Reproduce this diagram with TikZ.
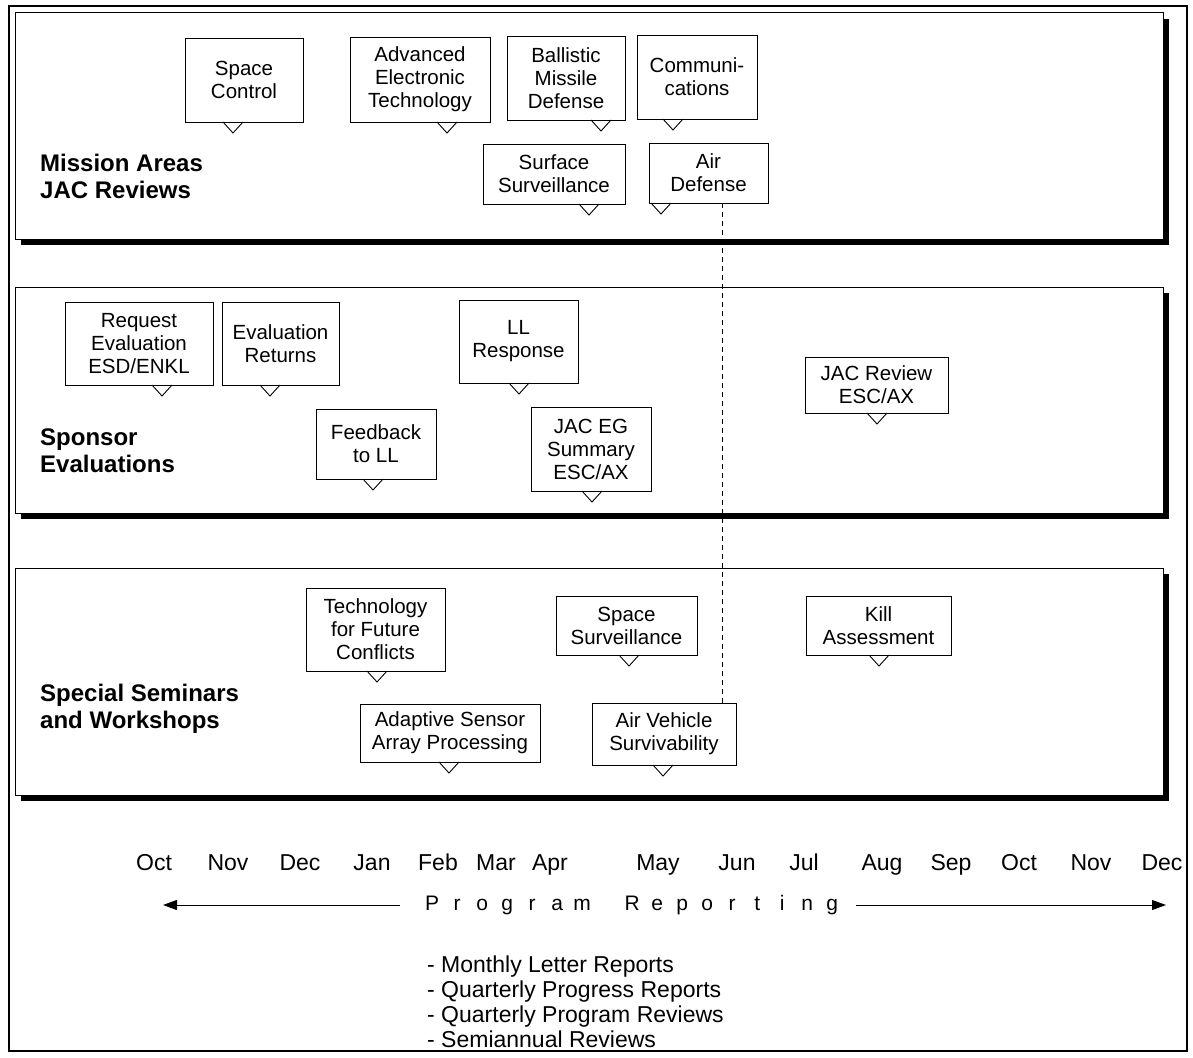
\documentclass[tikz,border=0pt]{standalone}
\usepackage{fontspec}
\setmainfont{Liberation Sans}
\usetikzlibrary{calc,arrows.meta}

\tikzset{
  frame/.style={draw=black, line width=1.2pt},
  panel/.style={draw=black, line width=1pt, fill=white},
  evbox/.style={draw=black, line width=0.9pt, fill=white, rectangle, align=center,
    inner sep=2pt, outer sep=0pt, font=\fontsize{20.5}{23}\selectfont},
  pointer/.style={draw=black, line width=0.9pt},
  rowlabel/.style={anchor=west, align=left, inner sep=0pt,
    font=\fontsize{24}{27}\selectfont\bfseries},
  month/.style={anchor=base, inner sep=0pt, font=\fontsize{23}{25}\selectfont},
  listitem/.style={anchor=base west, inner sep=0pt, font=\fontsize{23}{25}\selectfont},
  guide/.style={draw=black, line width=0.8pt, dash pattern=on 5pt off 4pt},
  reparrow/.style={draw=black, line width=1pt, -{Triangle[length=14pt,width=10pt]}},
}

% panel with a solid drop shadow on the right and bottom: x1,y1,x2,y2
\newcommand\panelbox[4]{%
  \fill[black] (#1+6,#4) rectangle (#3+6,#4+6);
  \fill[black] (#3,#2+6) rectangle (#3+6,#4+6);
  \draw[panel] (#1,#2) rectangle (#3,#4);
}

% event box with a small V pointer: name, x1, y1, x2, y2, pointer x, text
\newcommand\eventbox[7]{%
  \node[evbox, minimum width={#4-#2}, minimum height={#5-#3}] (#1)
    at ({(#2+#4)/2},{(#3+#5)/2}) {#7};
  \draw[pointer] ($(#1.south west)+({#6-#2-10},0)$) -- ++(10,11) -- ++(10,-11);
}

% one letter of the spaced-out heading
\newcommand\pitch[1]{\makebox[25pt]{#1}}

\begin{document}
\begin{tikzpicture}[x=1pt,y=-1pt]
\useasboundingbox (0,0) rectangle (1193,1057);
\draw[frame] (9,6) rectangle (1187,1051);

% the three activity bands
\panelbox{15}{13}{1163}{239}
\panelbox{15}{287}{1163}{513}
\panelbox{15}{568}{1163}{795}

\node[rowlabel] (lblmission) at (40,176) {Mission Areas\\JAC Reviews};
\node[rowlabel] (lblsponsor) at (40,451) {Sponsor\\Evaluations};
\node[rowlabel] (lblseminar) at (40,709) {Special Seminars\\and Workshops};

% mission area reviews
\eventbox{spacecontrol}{185}{38}{303}{122}{233}{Space\\Control}
\eventbox{advelec}{350}{37}{490}{122}{447}{Advanced\\Electronic\\Technology}
\eventbox{ballistic}{507}{36}{625}{120}{601}{Ballistic\\Missile\\Defense}
\eventbox{comms}{637}{35}{757}{119}{673}{Communi-\\cations}
\eventbox{surfsurv}{483}{144}{625}{204}{589}{Surface\\Surveillance}
\eventbox{airdef}{649}{143}{768}{203}{661}{Air\\Defense}

% sponsor evaluations
\eventbox{reqeval}{65}{302}{213}{385}{162}{Request\\Evaluation\\ESD/ENKL}
\eventbox{evalret}{222}{302}{339}{385}{270}{Evaluation\\Returns}
\eventbox{llresp}{459}{300}{578}{383}{519}{LL\\Response}
\eventbox{feedback}{316}{409}{436}{479}{373}{Feedback\\to LL}
\eventbox{jaceg}{531}{407}{651}{491}{592}{JAC EG\\Summary\\ESC/AX}
\eventbox{jacreview}{805}{357}{948}{413}{877}{JAC Review\\ESC/AX}

% seminars and workshops
\eventbox{techfut}{306}{588}{445}{671}{377}{Technology\\for Future\\Conflicts}
\eventbox{spacesurv}{556}{596}{697}{655}{629}{Space\\Surveillance}
\eventbox{killassess}{806}{596}{951}{655}{879}{Kill\\Assessment}
\eventbox{adaptive}{360}{704}{540}{762}{449}{Adaptive Sensor\\Array Processing}
\eventbox{airveh}{592}{703}{736}{765}{663}{Air Vehicle\\Survivability}

% current-date marker
\coordinate (guidetop) at ($(airdef.south west)+(73,0)$);
\draw[guide] (guidetop) -- (guidetop |- airveh.north);

% month scale
\foreach \mx/\mname [count=\i] in {154/Oct,228/Nov,300/Dec,372/Jan,438/Feb,496/Mar,
    550/Apr,658/May,737/Jun,804/Jul,882/Aug,951/Sep,1019/Oct,1091/Nov,1162/Dec}
  \node[month] (month\i) at (\mx,870) {\mname};

% program reporting span
\node[anchor=west, inner sep=0pt, font=\fontsize{21}{24}\selectfont] (report) at (419.5,905)
  {\pitch{P}\pitch{r}\pitch{o}\pitch{g}\pitch{r}\pitch{a}\pitch{m}\pitch{}%
   \pitch{R}\pitch{e}\pitch{p}\pitch{o}\pitch{r}\pitch{t}\pitch{i}\pitch{n}\pitch{g}};
\coordinate (lefttip) at (163,905);
\coordinate (righttip) at (1166,905);
\draw[reparrow] ([xshift=-20pt]report.west) -- (lefttip);
\draw[reparrow] ([xshift=11pt]report.east) -- (righttip);

\node[listitem] (rep1) at (427,972) {- Monthly Letter Reports};
\node[listitem] (rep2) at (427,997) {- Quarterly Progress Reports};
\node[listitem] (rep3) at (427,1022) {- Quarterly Program Reviews};
\node[listitem] (rep4) at (427,1047) {- Semiannual Reviews};
\end{tikzpicture}
\end{document}
